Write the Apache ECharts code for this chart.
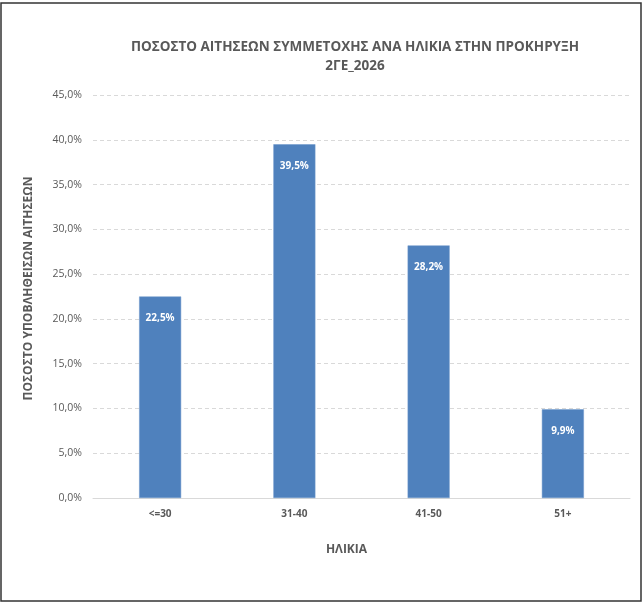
<!DOCTYPE html>
<html><head><meta charset="utf-8">
<script src="https://cdn.jsdelivr.net/npm/echarts@6/dist/echarts.min.js"></script>
<style>html,body{margin:0;padding:0;background:#fff}#c{width:644px;height:603px}</style>
</head><body><div id="c"></div>
<script>
const categories = ['<=30', '31-40', '41-50', '51+'];
const values = [22.5, 39.5, 28.2, 9.9];
const titleText = 'ΠΟΣΟΣΤΟ ΑΙΤΗΣΕΩΝ ΣΥΜΜΕΤΟΧΗΣ ΑΝΑ ΗΛΙΚΙΑ ΣΤΗΝ ΠΡΟΚΗΡΥΞΗ\n2ΓΕ_2026';
const yName = 'ΠΟΣΟΣΤΟ ΥΠΟΒΛΗΘΕΙΣΩΝ ΑΙΤΗΣΕΩΝ';
const xName = 'ΗΛΙΚΙΑ';

const fmt = v => v.toFixed(1).replace('.', ',') + '%';
const FONT = '"Open Sans", "Noto Sans", sans-serif';
const chart = echarts.init(document.getElementById('c'));
chart.setOption({
  backgroundColor: '#fff',
  textStyle: { fontFamily: FONT },
  graphic: [{
    type: 'rect', shape: { x: 1, y: 3, width: 640, height: 598 },
    style: { fill: 'none', stroke: '#333', lineWidth: 1.5 }, silent: true
  }],
  title: {
    text: titleText, left: 350, top: 33, textAlign: 'center',
    textStyle: { fontFamily: FONT, fontSize: 13.5, fontWeight: 'bold', color: '#595959', lineHeight: 19 }
  },
  grid: { left: 93, right: 14, top: 95, bottom: 105 },
  xAxis: {
    type: 'category', data: categories,
    name: xName, nameLocation: 'middle', nameGap: 46,
    nameTextStyle: { fontFamily: FONT, fontSize: 12, fontWeight: 'bold', color: '#595959', padding: [0, 30, 0, 0] },
    axisLine: { lineStyle: { color: '#d9d9d9', width: 1 } },
    axisTick: { show: false },
    axisLabel: { margin: 11, fontFamily: FONT, fontSize: 10, fontWeight: 'bold', color: '#595959' }
  },
  yAxis: {
    type: 'value', min: 0, max: 45, interval: 5,
    name: yName, nameLocation: 'middle', nameGap: 58, nameRotate: 90,
    nameTextStyle: { fontFamily: FONT, fontSize: 12, fontWeight: 'bold', color: '#595959', padding: [0, 0, 0, 16] },
    axisLine: { show: false }, axisTick: { show: false },
    axisLabel: { margin: 11, fontFamily: FONT, fontSize: 10.5, color: '#595959', formatter: v => fmt(v) },
    splitLine: { lineStyle: { color: '#d9d9d9', type: [4, 3] } }
  },
  series: [{
    type: 'bar', data: values, barWidth: 42,
    itemStyle: { color: '#4F81BD', borderColor: '#6d97cb', borderWidth: 0.5 },
    label: {
      show: true, position: 'insideTop', distance: 17,
      formatter: p => fmt(p.value),
      color: '#fff', fontFamily: FONT, fontSize: 10, fontWeight: 'bold'
    }
  }]
});
</script></body></html>
